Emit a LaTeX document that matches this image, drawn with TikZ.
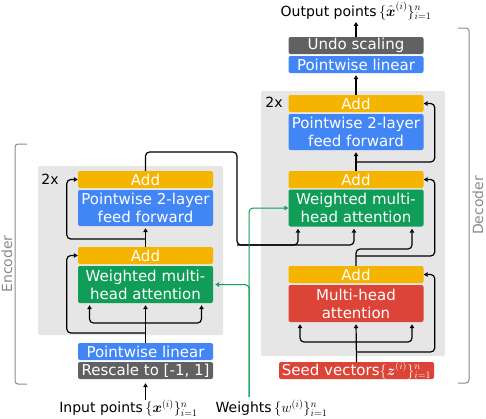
\documentclass[tikz,border=0pt]{standalone}
\usepackage{amsmath}
\usepackage{fontspec}
\setmainfont{DejaVu Sans}
\usetikzlibrary{arrows.meta}

\definecolor{addyellow}{HTML}{F4B400}
\definecolor{gblue}{HTML}{4285F4}
\definecolor{ggreen}{HTML}{0F9D58}
\definecolor{gred}{HTML}{DB4437}
\definecolor{darkgray}{HTML}{616161}
\definecolor{panelgray}{HTML}{E6E6E6}
\definecolor{brkgray}{HTML}{8A8A8A}

\newcommand{\setfont}{\fontsize{14}{16}\selectfont}

\begin{document}
\begin{tikzpicture}[x=1pt,y=-1pt,
  blk/.style={rectangle, rounded corners=2pt, minimum width=135pt, inner sep=0pt,
    text=white, align=center, font=\fontsize{15}{18}\selectfont},
  addblk/.style={blk, fill=addyellow, minimum height=17pt},
  lin/.style={blk, fill=gblue, minimum height=17pt},
  ff/.style={blk, fill=gblue, minimum height=36pt},
  wattn/.style={blk, fill=ggreen, minimum height=37pt},
  mattn/.style={blk, fill=gred, minimum height=37pt},
  scl/.style={blk, fill=darkgray, minimum height=17pt},
  lbl/.style={font=\fontsize{14}{16}\selectfont, inner sep=0pt},
  arr/.style={-{Triangle[open,length=4pt,width=4.5pt]}, line width=1.2pt, rounded corners=4pt, shorten >=2pt},
  res/.style={arr, shorten >=0pt},
  garr/.style={-{Triangle[open,length=4pt,width=4.5pt]}, line width=1pt, draw=ggreen, rounded corners=4pt},
  brk/.style={draw=brkgray, line width=1pt, rounded corners=3pt}]

  \useasboundingbox (0,0) rectangle (486,418);

  % Hintergruende
  \fill[panelgray, rounded corners=2pt] (38,166) rectangle (223,335);
  \fill[panelgray, rounded corners=2pt] (261,91) rectangle (445,356);

  % Encoder
  \node[addblk] (encAddB) at (145.5,179.5) {Add};
  \node[ff] (encFF) at (145.5,208) {Pointwise 2-layer\\feed forward};
  \node[addblk] (encAddA) at (145.5,255.5) {Add};
  \node[wattn] (encAttn) at (145.5,284.5) {Weighted multi-\\head attention};
  \node[lin] (encLin) at (145.5,351.5) {Pointwise linear};
  \node[scl] (encScale) at (145.5,370.5) {Rescale to [-1, 1]};
  \node[lbl] at (50,179) {2x};

  % Decoder
  \node[scl] (decUndo) at (356,45.5) {Undo scaling};
  \node[lin] (decLin) at (356,64.5) {Pointwise linear};
  \node[addblk] (decAddB) at (356,103.5) {Add};
  \node[ff] (decFF) at (356,132) {Pointwise 2-layer\\feed forward};
  \node[addblk] (decAddA) at (356,179.5) {Add};
  \node[wattn] (decAttn) at (356,208) {Weighted multi-\\head attention};
  \node[addblk] (decAddS) at (356,274.5) {Add};
  \node[mattn] (decMHA) at (356,303.5) {Multi-head\\attention};
  \node[blk, fill=gred, minimum width=155pt, minimum height=17pt] (seed) at (356.5,370.5)
    {Seed vectors{\setfont$\{\boldsymbol{z}^{(i)}\}_{i=1}^{n}$}};
  \node[lbl] at (274,102) {2x};

  % Beschriftungen aussen
  \node[lbl] (inpt) at (128.5,408) {Input points\,{\setfont$\{\boldsymbol{x}^{(i)}\}_{i=1}^{n}$}};
  \node[lbl] (wts) at (271.5,408) {Weights\,{\setfont$\{w^{(i)}\}_{i=1}^{n}$}};
  \node[lbl] (outpt) at (356,11) {Output points\,{\setfont$\{\hat{\boldsymbol{x}}^{(i)}\}_{i=1}^{n}$}};

  % Klammern
  \draw[brk] (27,144) -- (15,144) -- (15,384) -- (27,384);
  \node[lbl, text=brkgray, rotate=90] at (7,264) {Encoder};
  \draw[brk] (458,28) -- (469,28) -- (469,383) -- (458,383);
  \node[lbl, text=brkgray, rotate=90] at (478,205.5) {Decoder};

  % Verbindungen Encoder
  \coordinate (encQ) at (145.5,323);
  \coordinate (encR1) at (145.5,333);
  \coordinate (encR2) at (145.5,239);
  \draw[arr] (inpt.north -| encScale.south) -- ([yshift=-2pt]encScale.south);
  \draw[arr] (encLin.north) -- (encAttn.south);
  \draw[arr] (encQ) -| ([xshift=-56pt]encAttn.south);
  \draw[arr] (encQ) -| ([xshift=56pt]encAttn.south);
  \draw[res] (encR1) -| ([xshift=-11pt]encAddA.west) -- (encAddA.west);
  \draw[arr] (encAddA.north) -- (encFF.south);
  \draw[res] (encR2) -| ([xshift=-11pt]encAddB.west) -- (encAddB.west);

  % Encoder -> Decoder
  \coordinate (encOutA) at (237,152);
  \coordinate (encOutB) at (237,245);
  \draw[arr] (encAddB.north) |- (encOutA) -- (encOutB) -| ([xshift=-2pt]decAttn.south);
  \draw[arr] (encOutB) -| ([xshift=-58pt]decAttn.south);

  % Gewichte
  \coordinate (wtsTop) at (249,397);
  \draw[garr, shorten >=2pt] (wtsTop) |- (encAttn.east);
  \draw[garr] (wtsTop) |- (decAttn.west);

  % Verbindungen Decoder
  \coordinate (decQ) at (356,342);
  \coordinate (decR1) at (356,352);
  \coordinate (decKV) at (356,249);
  \coordinate (decR2) at (356,256);
  \coordinate (decR3) at (356,162);
  \draw[arr] (seed.north) -- (decMHA.south);
  \draw[arr] (decQ) -| ([xshift=-56pt]decMHA.south);
  \draw[arr] (decQ) -| ([xshift=56pt]decMHA.south);
  \draw[res] (decR1) -| ([xshift=11pt]decAddS.east) -- (decAddS.east);
  \draw[arr] (decAddS.north) -- (decKV) -| ([xshift=56pt]decAttn.south);
  \draw[res] (decR2) -| ([xshift=11pt]decAddA.east) -- (decAddA.east);
  \draw[arr] (decAddA.north) -- (decFF.south);
  \draw[res] (decR3) -| ([xshift=11pt]decAddB.east) -- (decAddB.east);
  \draw[arr] (decAddB.north) -- (decLin.south);
  \draw[arr] (decUndo.north) -- (outpt.south);
\end{tikzpicture}
\end{document}
